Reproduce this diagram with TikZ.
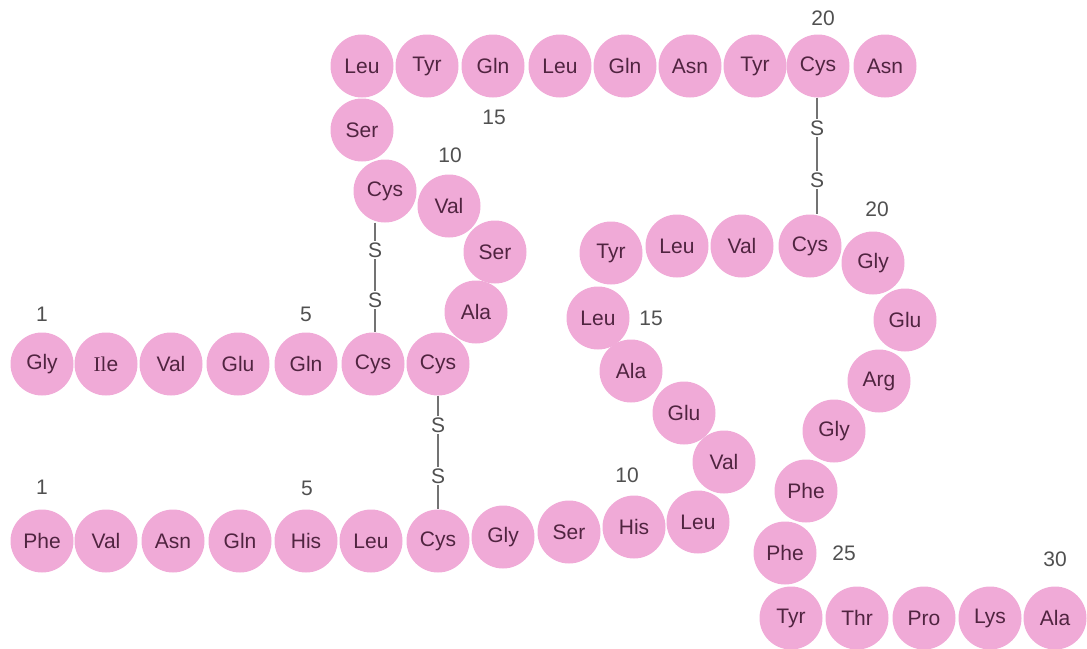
\documentclass[tikz,border=0pt]{standalone}
\usepackage{fontspec}
\setmainfont{Liberation Sans}
\newfontfamily\serifI{Liberation Serif}
\definecolor{aapink}{RGB}{240,170,215}
\definecolor{aatext}{RGB}{80,36,64}
\definecolor{numgray}{RGB}{80,80,80}
\definecolor{bondgray}{RGB}{115,115,115}
\begin{document}
\begin{tikzpicture}[x=1pt,y=-1pt,
  aa/.style={circle,fill=aapink,minimum size=63pt,inner sep=0pt,text=aatext,font=\fontsize{21}{25}\selectfont},
  num/.style={text=numgray,font=\fontsize{21}{25}\selectfont,inner sep=0pt},
  sulf/.style={text=numgray,font=\fontsize{21}{25}\selectfont,inner sep=1.5pt},
  bond/.style={draw=bondgray,line width=1.3pt}]
\useasboundingbox (0,0) rectangle (1087,648);
% ---- A chain ----
\node[aa] (A1) at (42,364) {Gly};
\node[aa] (A2) at (106,364) {{\serifI Il}e};
\node[aa] (A3) at (171,364) {Val};
\node[aa] (A4) at (238,364) {Glu};
\node[aa] (A5) at (306,364) {Gln};
\node[aa] (A6) at (373,364) {Cys};
\node[aa] (A7) at (438,364) {Cys};
\node[aa] (A8) at (476,312) {Ala};
\node[aa] (A9) at (495,252) {Ser};
\node[aa] (A10) at (449,206) {Val};
\node[aa] (A11) at (385,191) {Cys};
\node[aa] (A12) at (362,130) {Ser};
\node[aa] (A13) at (362,66) {Leu};
\node[aa] (A14) at (427,66) {Tyr};
\node[aa] (A15) at (493,66) {Gln};
\node[aa] (A16) at (560,66) {Leu};
\node[aa] (A17) at (625,66) {Gln};
\node[aa] (A18) at (690,66) {Asn};
\node[aa] (A19) at (755,66) {Tyr};
\node[aa] (A20) at (818,66) {Cys};
\node[aa] (A21) at (885,66) {Asn};
% ---- B chain ----
\node[aa] (B1) at (42,541) {Phe};
\node[aa] (B2) at (106,541) {Val};
\node[aa] (B3) at (173,541) {Asn};
\node[aa] (B4) at (240,541) {Gln};
\node[aa] (B5) at (306,541) {His};
\node[aa] (B6) at (371,541) {Leu};
\node[aa] (B7) at (438,541) {Cys};
\node[aa] (B8) at (503,537) {Gly};
\node[aa] (B9) at (569,532) {Ser};
\node[aa] (B10) at (634,527) {His};
\node[aa] (B11) at (698,522) {Leu};
\node[aa] (B12) at (724,462) {Val};
\node[aa] (B13) at (684,413) {Glu};
\node[aa] (B14) at (631,371) {Ala};
\node[aa] (B15) at (598,318) {Leu};
\node[aa] (B16) at (611,253) {Tyr};
\node[aa] (B17) at (677,246) {Leu};
\node[aa] (B18) at (742,246) {Val};
\node[aa] (B19) at (810,246) {Cys};
\node[aa] (B20) at (873,263) {Gly};
\node[aa] (B21) at (905,320) {Glu};
\node[aa] (B22) at (879,381) {Arg};
\node[aa] (B23) at (834,431) {Gly};
\node[aa] (B24) at (806,491) {Phe};
\node[aa] (B25) at (785,553) {Phe};
\node[aa] (B26) at (791,618) {Tyr};
\node[aa] (B27) at (857,618) {Thr};
\node[aa] (B28) at (924,618) {Pro};
\node[aa] (B29) at (990,618) {Lys};
\node[aa] (B30) at (1055,618) {Ala};
% ---- position numbers ----
\node[num] (nA1) at (42,314) {1};
\node[num] (nA5) at (306,314) {5};
\node[num] (nA10) at (450,155) {10};
\node[num] (nA15) at (494,117) {15};
\node[num] (nA20) at (823,18) {20};
\node[num] (nB1) at (42,487) {1};
\node[num] (nB5) at (307,488) {5};
\node[num] (nB10) at (627,475) {10};
\node[num] (nB15) at (651,318) {15};
\node[num] (nB20) at (877,209) {20};
\node[num] (nB25) at (844,553) {25};
\node[num] (nB30) at (1055,559) {30};
% ---- disulfide bridges ----
\node[sulf] (S1) at (375,250) {S};
\node[sulf] (S2) at (375,300) {S};
\node[sulf] (S3) at (438,425) {S};
\node[sulf] (S4) at (438,476) {S};
\node[sulf] (S5) at (817,128) {S};
\node[sulf] (S6) at (817,180) {S};
\draw[bond] (A11.south -| S1) -- (S1.north);
\draw[bond] (S1.south) -- (S2.north);
\draw[bond] (S2.south) -- (A6.north -| S2);
\draw[bond] (A7.south) -- (S3.north);
\draw[bond] (S3.south) -- (S4.north);
\draw[bond] (S4.south) -- (B7.north);
\draw[bond] (A20.south -| S5) -- (S5.north);
\draw[bond] (S5.south) -- (S6.north);
\draw[bond] (S6.south) -- (B19.north -| S6);
\end{tikzpicture}
\end{document}
